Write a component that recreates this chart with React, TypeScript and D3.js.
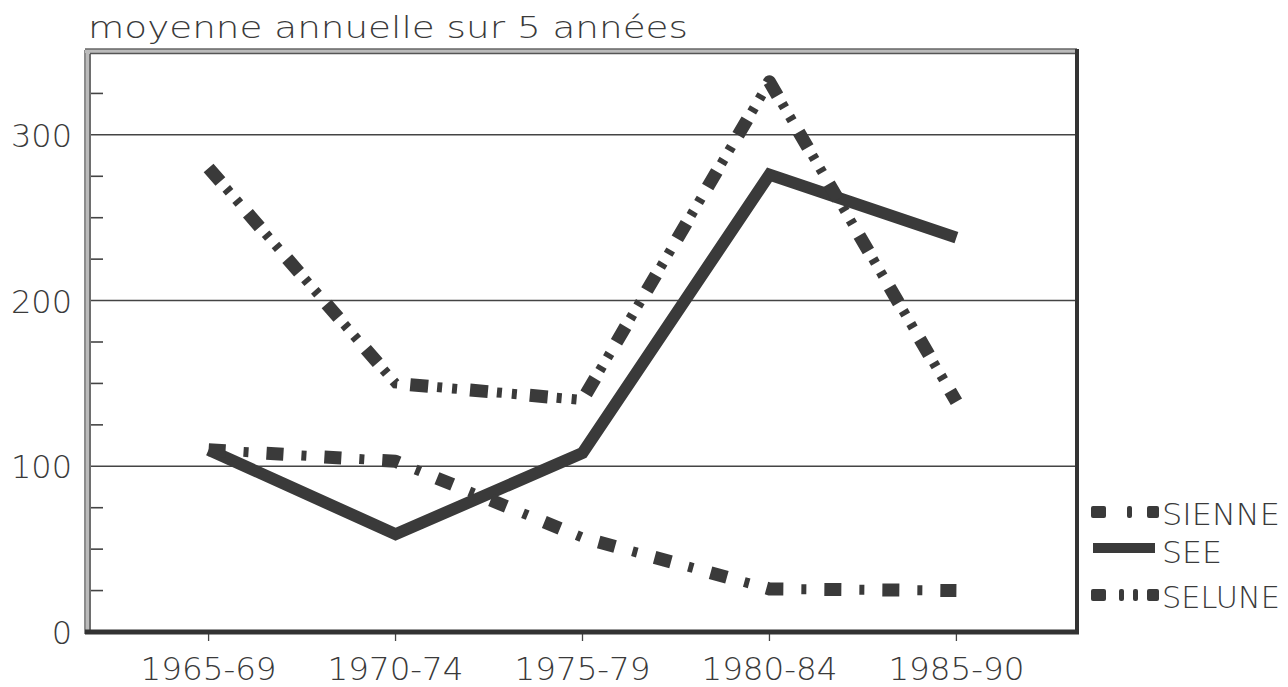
import React from "react";
import * as d3 from "d3";

const categories = ["1965-69", "1970-74", "1975-79", "1980-84", "1985-90"];
const sienne = [110, 103, 57, 26, 25];
const see = [110, 59, 108, 276, 238];
const selune = [280, 150, 140, 332, 139];
const yTicks = [0, 100, 200, 300];
const yMinor = [25, 50, 75, 125, 150, 175, 225, 250, 275, 325];
const title = "moyenne annuelle sur 5 années";

const W = 1288;
const H = 687;
const L = 88, R = 1077, T = 52, B = 632;
const FONT = "'DejaVu Sans ExtraLight', 'DejaVu Sans', sans-serif";
const INK = "#3a3a3a";

export default function App() {
  const x = d3.scalePoint<string>().domain(categories).range([L, R]).padding(0.645);
  const y = d3.scaleLinear().domain([0, 350]).range([B, T]);
  const line = d3.line<number>().x((_, i) => x(categories[i]) as number).y((d) => y(d));

  const pSienne = line(sienne) as string;
  const pSee = line(see) as string;
  const pSelune = line(selune) as string;

  return (
    <svg width={W} height={H} style={{ position: "absolute", left: 0, top: 0, background: "#fff" }}>
      {/* title */}
      <text x={88} y={38} fontFamily={FONT} fontWeight={200} fontSize={31} fill={INK}
        textLength={600} lengthAdjust="spacingAndGlyphs">{title}</text>

      {/* gridlines */}
      {yTicks.filter((t) => t > 0).map((t) => (
        <line key={t} x1={L} x2={R} y1={y(t)} y2={y(t)} stroke="#444" strokeWidth={1.5} />
      ))}
      {/* minor ticks */}
      {yMinor.map((t) => (
        <line key={t} x1={L + 2} x2={L + 15} y1={y(t)} y2={y(t)} stroke="#444" strokeWidth={1.6} />
      ))}
      {/* x ticks */}
      {categories.map((c) => (
        <line key={c} x1={x(c)} x2={x(c)} y1={B} y2={B + 9} stroke="#444" strokeWidth={1.3} />
      ))}

      {/* frame */}
      <rect x={L - 2} y={T - 1} width={5} height={B - T + 1} fill="#bbb" />
      <line x1={L - 3} x2={L - 3} y1={T - 2} y2={B + 2} stroke="#666" strokeWidth={1.5} />
      <line x1={L + 2} x2={L + 2} y1={T + 2} y2={B} stroke="#555" strokeWidth={1.5} />
      <rect x={L - 3} y={T - 3} width={R - L + 3} height={4} fill="#bbb" />
      <line x1={L - 3} x2={R} y1={T - 3} y2={T - 3} stroke="#666" strokeWidth={1.3} />
      <line x1={L + 2} x2={R} y1={T + 1.5} y2={T + 1.5} stroke="#555" strokeWidth={1.3} />
      <line x1={R} x2={R} y1={T - 3} y2={B + 2} stroke="#333" strokeWidth={4} />
      <line x1={L - 3} x2={R + 2} y1={B} y2={B} stroke="#333" strokeWidth={5} />

      {/* y labels */}
      {yTicks.map((t) => (
        <text key={t} x={72} y={y(t) + 12} textAnchor="end" fontFamily={FONT} fontWeight={200}
          fontSize={32} fill={INK}>{t}</text>
      ))}
      {/* x labels */}
      {categories.map((c) => (
        <text key={c} x={x(c)} y={680} textAnchor="middle" fontFamily={FONT} fontWeight={200}
          fontSize={32} fill={INK} textLength={136} lengthAdjust="spacingAndGlyphs">{c}</text>
      ))}

      {/* SEE solid */}
      <path d={pSee} fill="none" stroke={INK} strokeWidth={12} strokeLinejoin="miter" />

      {/* SIENNE dash-dot */}
      <path d={pSienne} fill="none" stroke={INK} strokeWidth={13} strokeDasharray="17 41" strokeLinejoin="round" />
      <path d={pSienne} fill="none" stroke={INK} strokeWidth={10} strokeDasharray="0 35 5 18" />

      {/* SELUNE dash-dot-dot */}
      <path d={pSelune} fill="none" stroke={INK} strokeWidth={13} strokeDasharray="18 42" strokeLinejoin="round" />
      <path d={pSelune} fill="none" stroke={INK} strokeWidth={10} strokeDasharray="0 27 5 10 5 13" />

      {/* legend */}
      <g>
        <rect x={1091} y={506} width={15} height={12} rx={2} fill={INK} />
        <rect x={1127} y={506} width={5} height={12} rx={2} fill={INK} />
        <rect x={1147} y={506} width={12} height={12} rx={2} fill={INK} />
        <text x={1162} y={525} fontFamily={FONT} fontWeight={200} fontSize={31} fill={INK}
          textLength={118} lengthAdjust="spacingAndGlyphs">SIENNE</text>

        <rect x={1093} y={543} width={62} height={10} fill={INK} />
        <text x={1162} y={563} fontFamily={FONT} fontWeight={200} fontSize={31} fill={INK}
          textLength={60} lengthAdjust="spacingAndGlyphs">SEE</text>

        <rect x={1091} y={589} width={15} height={12} rx={2} fill={INK} />
        <rect x={1119} y={589} width={5} height={12} rx={2} fill={INK} />
        <rect x={1133} y={589} width={5} height={12} rx={2} fill={INK} />
        <rect x={1147} y={589} width={12} height={12} rx={2} fill={INK} />
        <text x={1162} y={608} fontFamily={FONT} fontWeight={200} fontSize={31} fill={INK}
          textLength={118} lengthAdjust="spacingAndGlyphs">SELUNE</text>
      </g>
    </svg>
  );
}
